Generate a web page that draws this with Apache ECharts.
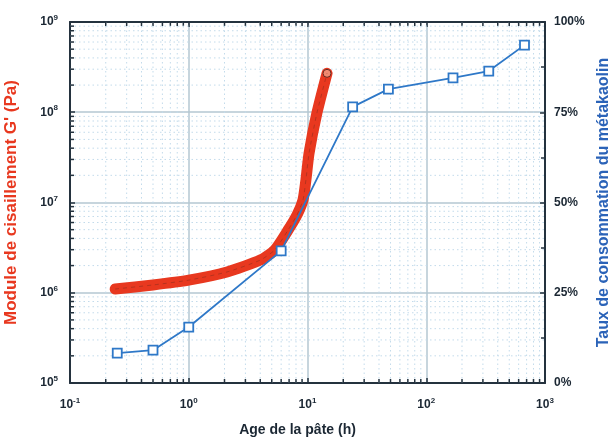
<!DOCTYPE html>
<html><head><meta charset="utf-8">
<script src="https://cdn.jsdelivr.net/npm/echarts@6/dist/echarts.min.js"></script>
<style>html,body{margin:0;padding:0;background:#fff}#c{width:612px;height:443px}</style>
</head><body><div id="c"></div>
<script>
// ---- data ----
const modulusAge = [0.24, 0.5, 1.0, 2.1, 4.0, 5.3, 6.86, 8.16, 9.17, 9.7, 10.3, 12.0, 14.6];
const modulusG = [1.10e6, 1.22e6, 1.38e6, 1.70e6, 2.3e6, 2.98e6, 4.95e6, 7.3e6, 1.07e7, 1.78e7, 3.5e7, 9.8e7, 2.7e8];
const consumptionAge = [0.25, 0.5, 1, 6, 24, 48, 168, 336, 672];
const consumptionPct = [8.3, 9.1, 15.5, 36.6, 76.5, 81.4, 84.5, 86.4, 93.6];
const xTickValues = [0.1, 1, 10, 100, 1000];
const yLeftTickValues = [1e5, 1e6, 1e7, 1e8, 1e9];
const yRightTicks = [0, 25, 50, 75, 100];

const X_MIN = 0.1, X_MAX = 1000, Y_MIN = 1e5, Y_MAX = 1e9;
const minorX = [], minorY = [];
for (let d = -1; d < 3; d++) for (let k = 2; k <= 9; k++) minorX.push(k * Math.pow(10, d));
for (let d = 5; d < 9; d++) for (let k = 2; k <= 9; k++) minorY.push(k * Math.pow(10, d));
const minorData = minorX.map(v => [v, Y_MIN, 0]).concat(minorY.map(v => [X_MIN, v, 1]));

const supFmt = v => {
  const e = Math.round(Math.log10(v));
  return '10{s|' + e + '}';
};
const labelStyle = {
  fontFamily: 'Liberation Sans', fontWeight: 'bold', fontSize: 12, color: '#1b2733',
  rich: { s: { fontFamily: 'Liberation Sans', fontWeight: 'bold', fontSize: 8, verticalAlign: 'top', padding: [0, 0, 8, 0], color: '#1b2733' } }
};
const axisLineStyle = { lineStyle: { color: '#24323e', width: 2 } };
const majorSplit = { show: true, lineStyle: { color: '#b4c7d2', width: 1.5 } };

const chart = echarts.init(document.getElementById('c'), null, { renderer: 'canvas' });
chart.setOption({
  backgroundColor: '#fff',
  animation: false,
  grid: { left: 70, right: 67, top: 22, bottom: 60, containLabel: false, outerBoundsMode: 'none' },
  xAxis: [
    {
      type: 'log', logBase: 10, min: X_MIN, max: X_MAX, position: 'bottom',
      name: 'Age de la pâte (h)', nameLocation: 'middle', nameGap: 40,
      nameTextStyle: { fontFamily: 'Liberation Sans', fontWeight: 'bold', fontSize: 14, color: '#1b2733', padding: [0, 20, 0, 0] },
      axisLine: axisLineStyle,
      axisTick: { inside: true, length: 5, lineStyle: { color: '#24323e', width: 1.5 } },
      axisLabel: Object.assign({ formatter: supFmt, margin: 14 }, labelStyle),
      splitLine: majorSplit
    },
    {
      type: 'log', logBase: 10, min: X_MIN, max: X_MAX, position: 'top',
      axisLine: axisLineStyle,
      axisTick: { inside: true, length: 5, lineStyle: { color: '#24323e', width: 1.5 } },
      axisLabel: { show: false }, splitLine: { show: false }
    }
  ],
  yAxis: [
    {
      type: 'log', logBase: 10, min: Y_MIN, max: Y_MAX, position: 'left',
      name: "Module de cisaillement G' (Pa)", nameLocation: 'middle', nameGap: 50, nameRotate: 90,
      nameTextStyle: { fontFamily: 'Liberation Sans', fontWeight: 'bold', fontSize: 17, color: '#e8381f' },
      axisLine: axisLineStyle,
      axisTick: { inside: true, length: 5, lineStyle: { color: '#24323e', width: 1.5 } },
      axisLabel: Object.assign({ formatter: supFmt, margin: 12 }, labelStyle),
      splitLine: majorSplit
    },
    {
      type: 'value', min: 0, max: 100, interval: 25, position: 'right',
      name: 'Taux de consommation du métakaolin', nameLocation: 'middle', nameGap: 46, nameRotate: 90,
      nameTextStyle: { fontFamily: 'Liberation Sans', fontWeight: 'bold', fontSize: 16, color: '#2b63b8' },
      axisLine: axisLineStyle,
      axisTick: { inside: true, length: 5, lineStyle: { color: '#24323e', width: 1.5 } },
      minorTick: { show: true, splitNumber: 2, length: 4, lineStyle: { color: '#24323e', width: 1.5 } },
      axisLabel: Object.assign({ formatter: v => v + '%', margin: 9 }, labelStyle),
      splitLine: { show: false }
    }
  ],
  series: [
    {
      type: 'custom', xAxisIndex: 0, yAxisIndex: 0, silent: true, z: 1,
      data: minorData,
      renderItem: function (params, api) {
        const v0 = api.value(0), v1 = api.value(1), kind = api.value(2);
        const children = [];
        if (kind === 0) {
          const b = api.coord([v0, Y_MIN]), t = api.coord([v0, Y_MAX]);
          children.push({ type: 'line', shape: { x1: b[0], y1: b[1], x2: t[0], y2: t[1] },
            style: { stroke: '#c3dbeb', lineWidth: 1, lineDash: [1.5, 3] } });
          children.push({ type: 'line', shape: { x1: b[0], y1: b[1], x2: b[0], y2: b[1] - 4 },
            style: { stroke: '#24323e', lineWidth: 1.5 } });
          children.push({ type: 'line', shape: { x1: t[0], y1: t[1], x2: t[0], y2: t[1] + 4 },
            style: { stroke: '#24323e', lineWidth: 1.5 } });
        } else {
          const l = api.coord([X_MIN, v1]), r = api.coord([X_MAX, v1]);
          children.push({ type: 'line', shape: { x1: l[0], y1: l[1], x2: r[0], y2: r[1] },
            style: { stroke: '#c3dbeb', lineWidth: 1, lineDash: [1.5, 3] } });
          children.push({ type: 'line', shape: { x1: l[0], y1: l[1], x2: l[0] + 4, y2: l[1] },
            style: { stroke: '#24323e', lineWidth: 1.5 } });
        }
        return { type: 'group', children: children };
      }
    },
    {
      name: 'G', type: 'line', xAxisIndex: 0, yAxisIndex: 0, z: 3,
      data: modulusAge.map((a, i) => [a, modulusG[i]]),
      smooth: 0.2,
      lineStyle: { color: '#e8381f', width: 11, cap: 'round', join: 'round' },
      symbol: 'circle',
      symbolSize: (v, p) => (p.dataIndex === modulusAge.length - 1 ? 8 : 0),
      itemStyle: { color: '#f08a70', borderColor: '#6a2a20', borderWidth: 1 }
    },
    {
      name: 'Gcore', type: 'line', xAxisIndex: 0, yAxisIndex: 0, z: 4,
      data: modulusAge.map((a, i) => [a, modulusG[i]]),
      smooth: 0.2, showSymbol: false, silent: true,
      lineStyle: { color: '#7a2a1c', width: 1, type: [4, 4], opacity: 0.45 }
    },
    {
      name: 'Taux', type: 'line', xAxisIndex: 0, yAxisIndex: 1, z: 5,
      data: consumptionAge.map((a, i) => [a, consumptionPct[i]]),
      lineStyle: { color: '#2e78c8', width: 1.8 },
      symbol: 'rect', symbolSize: 9,
      itemStyle: { color: '#ffffff', borderColor: '#2e78c8', borderWidth: 1.8 }
    }
  ]
});
</script></body></html>
